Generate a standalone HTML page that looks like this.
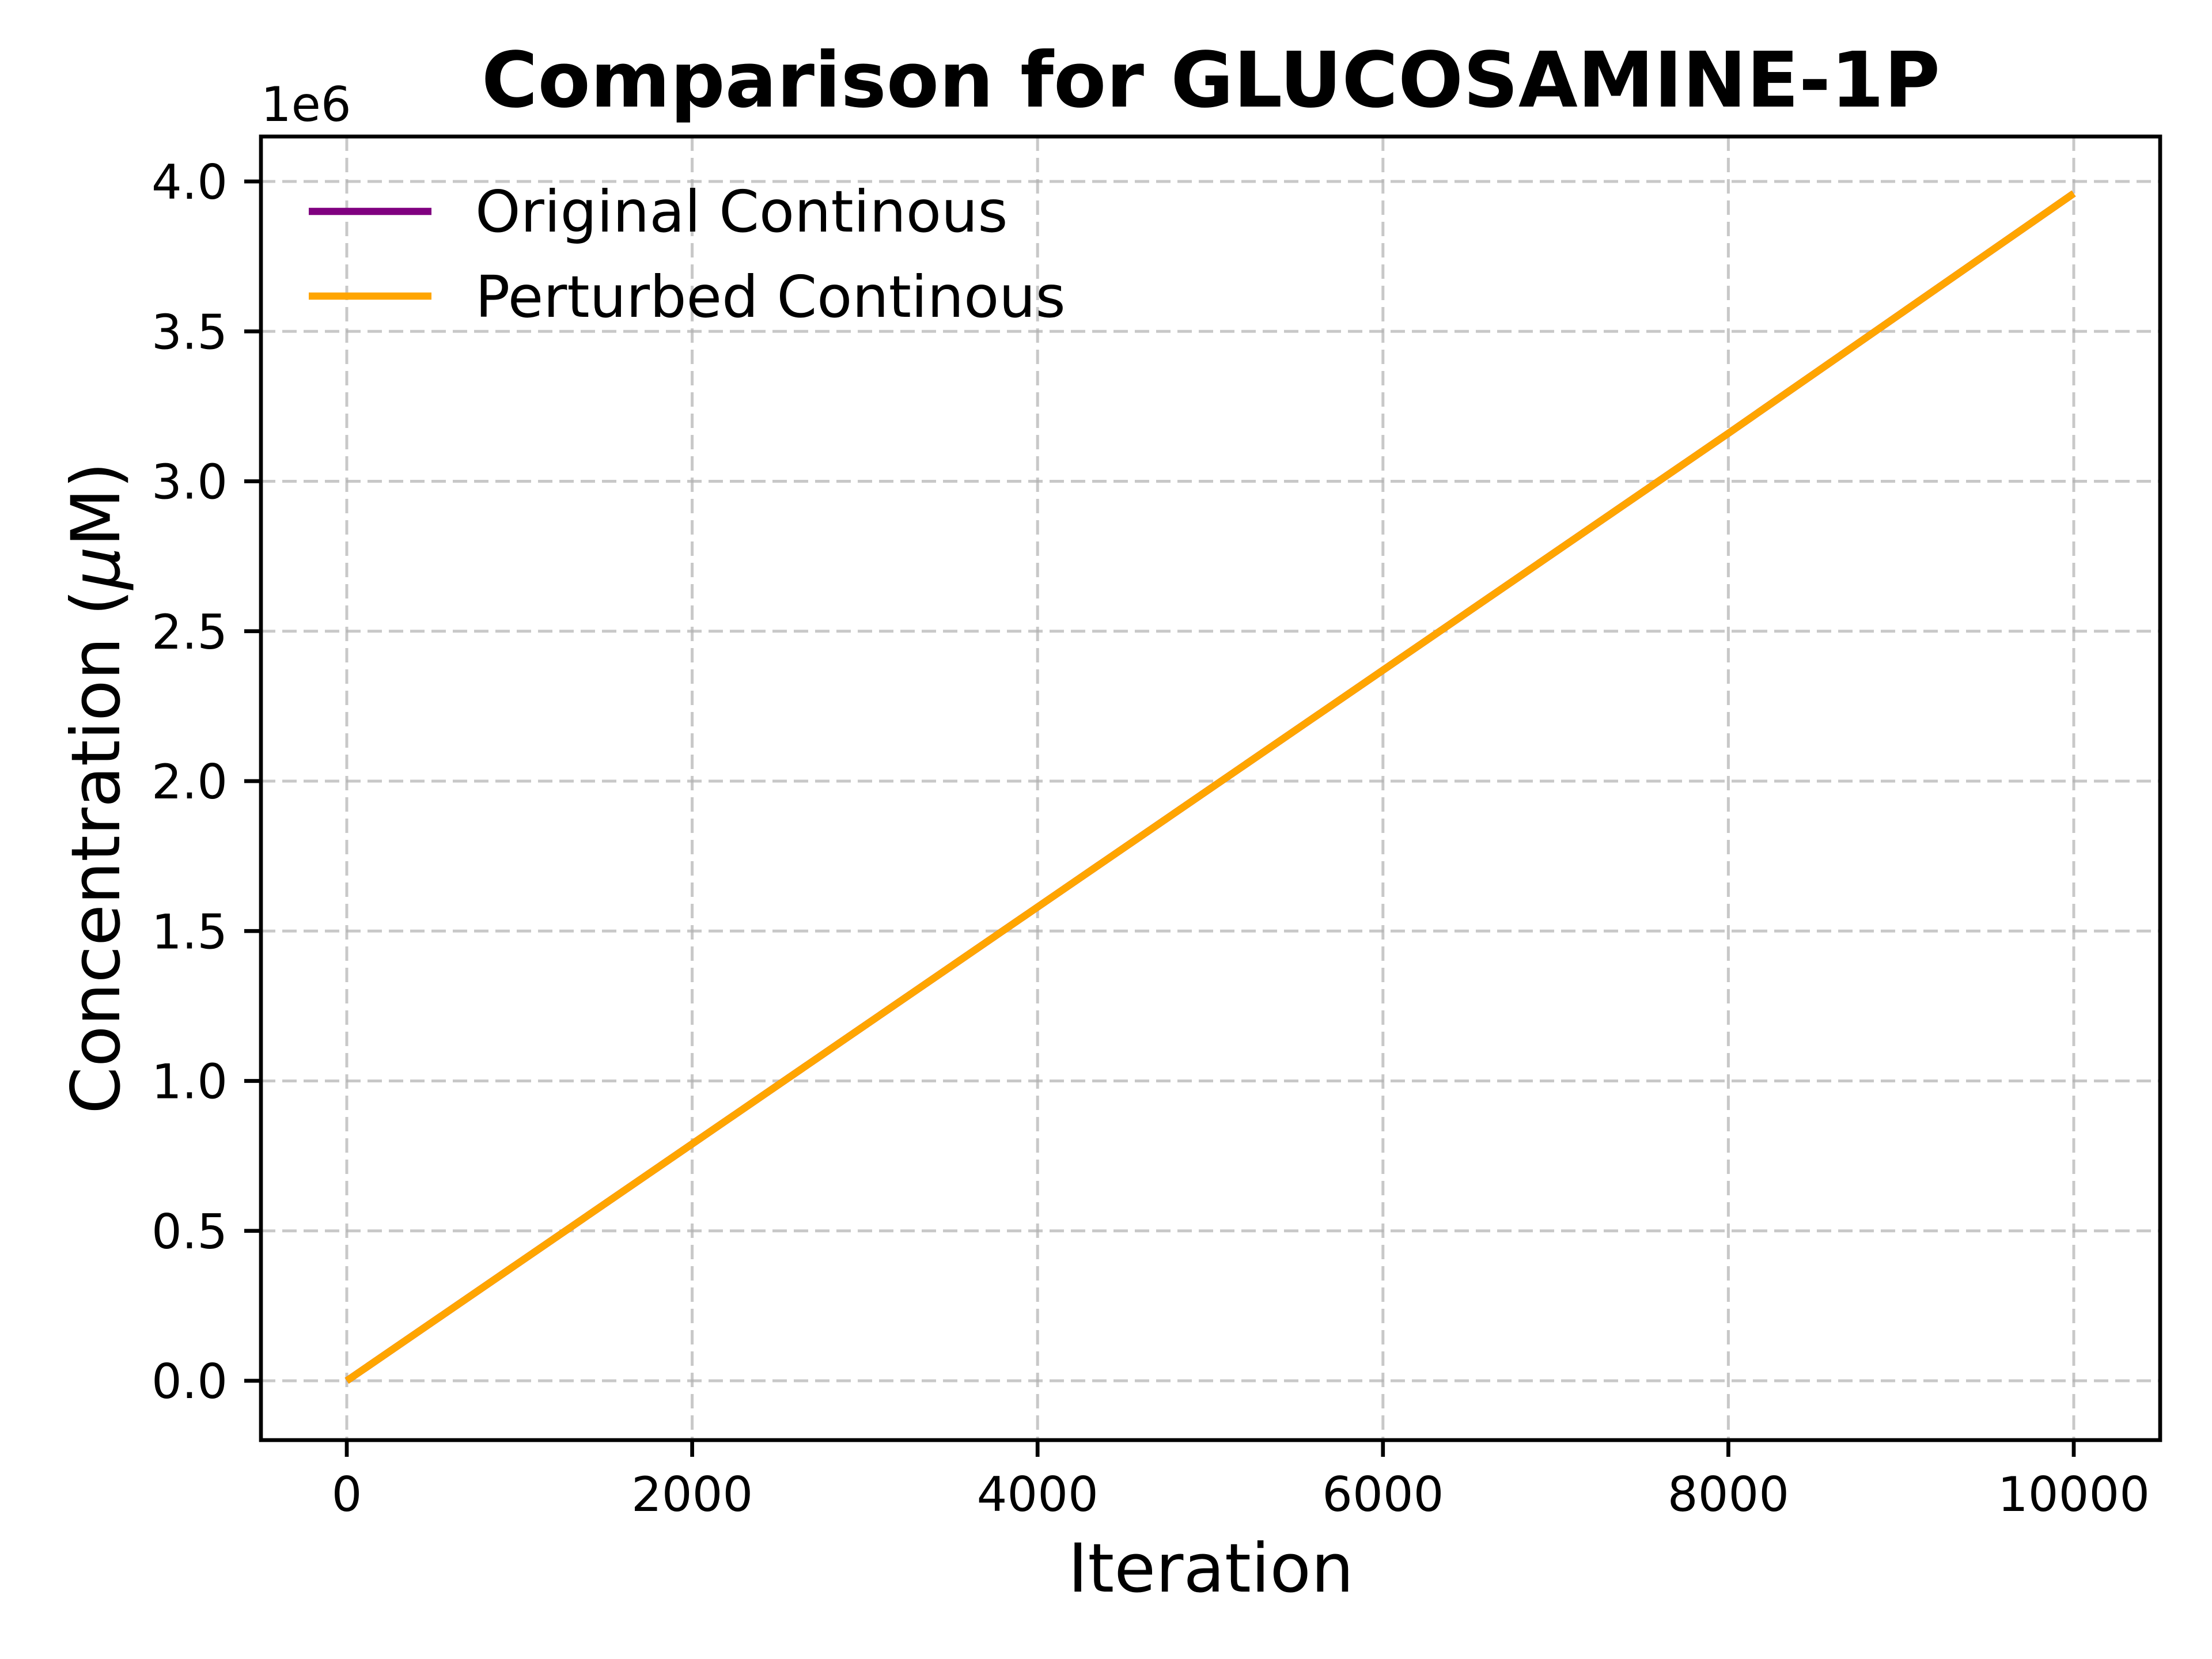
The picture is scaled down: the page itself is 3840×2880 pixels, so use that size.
<!DOCTYPE html>
<html><head><meta charset="utf-8"><style>
html,body{margin:0;padding:0;background:#fff;}
svg{display:block;font-family:"DejaVu Sans","Liberation Sans",sans-serif;}
</style></head><body>
<svg id="chart" width="3840" height="2880" viewBox="0 0 3840 2880" xmlns="http://www.w3.org/2000/svg">
<rect width="3840" height="2880" fill="#fff"/>
<g id="grid"></g>
<g id="series"></g>
<rect x="453" y="237" width="3297" height="2263" fill="none" stroke="#000" stroke-width="6.7"/>
<g id="ticks"></g>
<text x="2102" y="185" font-size="133" font-weight="bold" text-anchor="middle">Comparison for GLUCOSAMINE-1P</text>
<text x="453" y="210" font-size="83">1e6</text>
<text x="2102" y="2763" font-size="117" text-anchor="middle">Iteration</text>
<text transform="translate(207,1368) rotate(-90)" font-size="117" text-anchor="middle">Concentration (<tspan font-style="italic">μ</tspan>M)</text>
<g>
<line x1="536" y1="367" x2="749" y2="367" stroke="#800080" stroke-width="12.5"/>
<text x="825" y="402" font-size="100">Original Continous</text>
<line x1="536" y1="514" x2="749" y2="514" stroke="#ffa500" stroke-width="12.5"/>
<text x="825" y="550" font-size="100">Perturbed Continous</text>
</g>
</svg>
<script>
const iterations = [0, 2000, 4000, 6000, 8000, 10000];
const originalValues = [0, 0.79, 1.58, 2.37, 3.16, 3.96];
const perturbedValues = [0, 0.79, 1.58, 2.37, 3.16, 3.96];
const xTicks = [0, 2000, 4000, 6000, 8000, 10000];
const yTicks = [0, 0.5, 1.0, 1.5, 2.0, 2.5, 3.0, 3.5, 4.0];
const yTickLabels = ["0.0","0.5","1.0","1.5","2.0","2.5","3.0","3.5","4.0"];

const NS = "http://www.w3.org/2000/svg";
const L = 453, R = 3750, T = 237, B = 2500;
function xs(v){ return 602 + (v - 0) * (3600 - 602) / 10000; }
function ys(v){ return 2397 - v * (2397 - 315) / 4.0; }
function mk(tag, attrs, parent){
  const e = document.createElementNS(NS, tag);
  for (const k in attrs) e.setAttribute(k, attrs[k]);
  parent.appendChild(e);
  return e;
}
const grid = document.getElementById('grid');
const ticks = document.getElementById('ticks');
const series = document.getElementById('series');

xTicks.forEach((t) => {
  const x = xs(t);
  const g = mk('line', {x1:x, y1:T, x2:x, y2:B, stroke:'#b0b0b0', 'stroke-opacity':0.7, 'stroke-width':5, 'stroke-dasharray':'25 12'}, grid);
  
  
  const tk = mk('line', {x1:x, y1:B, x2:x, y2:B+29, stroke:'#000', 'stroke-width':6.7}, ticks);
  
  
  const tx = mk('text', {x:x, y:2623, 'font-size':83, 'text-anchor':'middle'}, ticks);
  tx.textContent = String(t);
  
  
});
yTicks.forEach((t, i) => {
  const y = ys(t);
  const g = mk('line', {x1:L, y1:y, x2:R, y2:y, stroke:'#b0b0b0', 'stroke-opacity':0.7, 'stroke-width':5, 'stroke-dasharray':'25 12'}, grid);
  
  
  const tk = mk('line', {x1:L-29, y1:y, x2:L, y2:y, stroke:'#000', 'stroke-width':6.7}, ticks);
  
  
  const tx = mk('text', {x:395, y:y+30, 'font-size':83, 'text-anchor':'end'}, ticks);
  tx.textContent = yTickLabels[i];
  
  
});
function pts(vals){ return iterations.map((it, i) => xs(it) + ',' + ys(vals[i])).join(' '); }
const o = mk('polyline', {points:pts(originalValues), fill:'none', stroke:'#800080', 'stroke-width':12.5}, series);


const p = mk('polyline', {points:pts(perturbedValues), fill:'none', stroke:'#ffa500', 'stroke-width':12.5}, series);


</script>
</body></html>
